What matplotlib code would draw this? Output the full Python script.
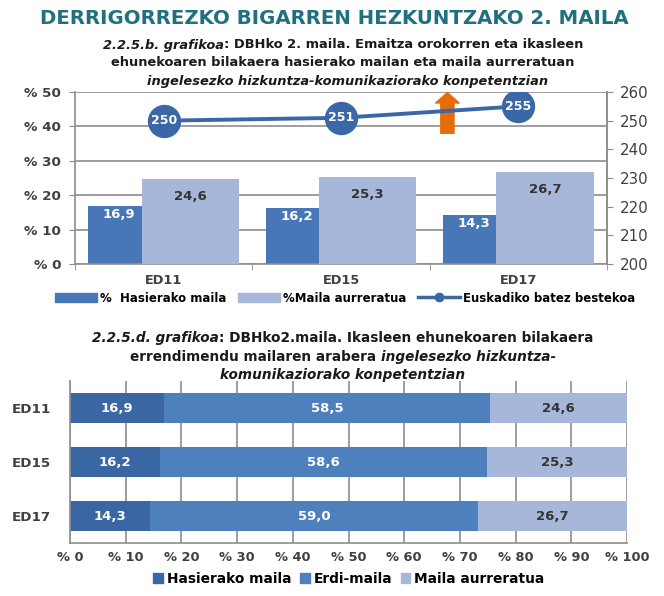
import numpy as np
import matplotlib
matplotlib.use("Agg")
import matplotlib.pyplot as plt
from matplotlib.patches import Patch
from matplotlib.lines import Line2D

plt.rcParams['font.family'] = ['DejaVu Sans']

# datuak
urteak = ['ED11', 'ED15', 'ED17']
hasierako = [16.9, 16.2, 14.3]
erdi_maila = [58.5, 58.6, 59.0]
aurreratua = [24.6, 25.3, 26.7]
batez_bestekoa = [250, 251, 255]
ezker_ticks = [0, 10, 20, 30, 40, 50]
eskuin_ticks = [200, 210, 220, 230, 240, 250, 260]
x_ticks_behe = list(range(0, 101, 10))

c_ilun = '#3a66a3'
c_erdi = '#4f80be'
c_goi = '#4877b8'
c_argi = '#a7b7da'
c_lerro = '#3b67a6'
c_gezi = '#e46c0a'
c_grid = '#8e8e8e'
c_testu = '#404040'

W, H = 664, 596
fig = plt.figure(figsize=(W / 100, H / 100), dpi=100)
renderer = fig.canvas.get_renderer()


def fmt(v):
    return f"{v:.1f}".replace('.', ',')


def lerroa(y_px, zatiak, x_px=343, size=9.4, color='#1a1a1a'):
    # testu zati nahasiak (etzana / zuzena) erdian jarri
    tt = []
    for s, st in zatiak:
        t = fig.text(0, 1 - y_px / H, s, fontsize=size, fontweight='bold', style=st,
                     ha='left', va='center', color=color)
        tt.append(t)
    ws = [t.get_window_extent(renderer).width for t in tt]
    x0 = x_px - sum(ws) / 2
    for t, w in zip(tt, ws):
        t.set_x(x0 / W)
        x0 += w


fig.text(334 / W, 1 - 18 / H, 'DERRIGORREZKO BIGARREN HEZKUNTZAKO 2. MAILA',
         fontsize=14.2, fontweight='bold', color='#21707f', ha='center', va='center')

lerroa(45, [('2.2.5.b. grafikoa', 'italic'), (': DBHko 2. maila. Emaitza orokorren eta ikasleen', 'normal')])
lerroa(63, [('ehunekoaren bilakaera hasierako mailan eta maila aurreratuan', 'normal')])
lerroa(81, [('ingelesezko hizkuntza-komunikaziorako konpetentzian', 'italic')], x_px=348)

# --- goiko grafikoa ---
ax = fig.add_axes([75 / W, 1 - 264 / H, 532 / W, 172 / H])
x = np.arange(len(urteak))
zab = 0.55
ax.bar(x - 0.15, hasierako, zab, color=c_goi, zorder=2)
ax.bar(x + 0.15, aurreratua, zab, color=c_argi, zorder=4)
for i in range(len(urteak)):
    ax.annotate(fmt(hasierako[i]), (x[i] - 0.25, hasierako[i]), xytext=(0, -6),
                textcoords='offset points', ha='center', va='center', color='white',
                fontsize=9.5, fontweight='bold', zorder=3)
    ax.annotate(fmt(aurreratua[i]), (x[i] + 0.15, aurreratua[i]), xytext=(0, -12.5),
                textcoords='offset points', ha='center', va='center', color='#333333',
                fontsize=9.5, fontweight='bold', zorder=5)

ax.set_xlim(-0.5, 2.5)
ax.set_ylim(0, 50)
ax.set_yticks(ezker_ticks)
ax.set_yticklabels([f'% {v}' for v in ezker_ticks])
ax.set_xticks(x)
ax.set_xticklabels(urteak)
ax.set_xticks([-0.5, 0.5, 1.5, 2.5], minor=True)
ax.tick_params(axis='x', which='major', length=0, pad=7, labelsize=9.3, labelcolor=c_testu)
ax.tick_params(axis='x', which='minor', length=4, color=c_grid, direction='out')
ax.tick_params(axis='y', length=4, color=c_grid, pad=6, labelsize=9.7, labelcolor=c_testu)
for l in ax.get_xticklabels() + ax.get_yticklabels():
    l.set_fontweight('bold')
ax.grid(axis='y', color=c_grid, lw=1.2, zorder=0)
ax.set_axisbelow(True)
ax.spines['top'].set_visible(False)
for s in ['left', 'right', 'bottom']:
    ax.spines[s].set_color(c_grid)
    ax.spines[s].set_linewidth(1.2)

ax2 = ax.twinx()
ax2.set_ylim(200, 260)
ax2.set_yticks(eskuin_ticks)
ax2.tick_params(axis='y', length=4, color=c_grid, pad=5, labelsize=10.8, labelcolor=c_testu)
for s in ['top', 'left', 'bottom']:
    ax2.spines[s].set_visible(False)
ax2.spines['right'].set_color(c_grid)
ax2.spines['right'].set_linewidth(1.2)
ax2.plot(x, batez_bestekoa, color=c_lerro, lw=2.8, marker='o', markersize=23,
         markerfacecolor=c_lerro, markeredgecolor=c_lerro, zorder=5)
for i, v in enumerate(batez_bestekoa):
    ax2.text(x[i], v, str(v), color='white', fontsize=9, fontweight='bold',
             ha='center', va='center', zorder=6)
ax2.annotate('', xy=(1.6, 259.8), xytext=(1.6, 245.6),
             arrowprops=dict(arrowstyle='simple,head_width=1.7,head_length=0.75,tail_width=0.95',
                             mutation_scale=10, color=c_gezi, shrinkA=0, shrinkB=0))

fig.legend(handles=[Patch(color=c_goi, label='%  Hasierako maila'),
                    Patch(color=c_argi, label='%Maila aurreratua'),
                    Line2D([], [], color=c_lerro, lw=2.5, marker='o', markersize=6,
                           label='Euskadiko batez bestekoa')],
           loc='center', bbox_to_anchor=(345 / W, 1 - 298 / H), ncol=3, frameon=False,
           handlelength=3.6, handleheight=0.7, handletextpad=0.2, columnspacing=1.0,
           prop={'weight': 'bold', 'size': 8.5})

# --- beheko grafikoa ---
lerroa(338, [('2.2.5.d. grafikoa', 'italic'), (': DBHko2.maila. Ikasleen ehunekoaren bilakaera', 'normal')],
       size=9.8)
lerroa(357, [('errendimendu mailaren arabera ', 'normal'), ('ingelesezko hizkuntza-', 'italic')],
       size=9.8)
lerroa(375, [('komunikaziorako konpetentzian', 'italic')], size=9.8)

bx = fig.add_axes([70 / W, 1 - 543 / H, 557 / W, 162 / H])
y = np.arange(len(urteak))
h = 0.56
ezk = np.zeros(len(urteak))
for balioak, kol, tkol in [(hasierako, c_ilun, 'white'), (erdi_maila, c_erdi, 'white'),
                           (aurreratua, c_argi, '#333333')]:
    bx.barh(y, balioak, h, left=ezk, color=kol, zorder=2)
    for i, v in enumerate(balioak):
        bx.text(ezk[i] + v / 2, y[i], fmt(v), ha='center', va='center', color=tkol,
                fontsize=9.5, fontweight='bold', zorder=3)
    ezk = ezk + np.array(balioak)

bx.set_ylim(2.5, -0.5)
bx.set_xlim(0, 100)
bx.set_yticks(y)
bx.set_yticklabels(urteak)
bx.set_xticks(x_ticks_behe)
bx.set_xticklabels([f'% {v}' for v in x_ticks_behe])
bx.tick_params(axis='y', length=0, pad=14, labelsize=9.7, labelcolor=c_testu)
bx.tick_params(axis='x', length=0, pad=6, labelsize=9.4, labelcolor=c_testu)
for l in bx.get_xticklabels() + bx.get_yticklabels():
    l.set_fontweight('bold')
bx.grid(axis='x', color=c_grid, lw=1.2, zorder=0)
bx.set_axisbelow(True)
for s in ['top', 'right']:
    bx.spines[s].set_visible(False)
for s in ['left', 'bottom']:
    bx.spines[s].set_color(c_grid)
    bx.spines[s].set_linewidth(1.2)

fig.legend(handles=[Patch(color=c_ilun, label='Hasierako maila'),
                    Patch(color=c_erdi, label='Erdi-maila'),
                    Patch(color=c_argi, label='Maila aurreratua')],
           loc='center', bbox_to_anchor=(349 / W, 1 - 579 / H), ncol=3, frameon=False,
           handlelength=0.7, handleheight=0.7, handletextpad=0.3, columnspacing=0.6,
           prop={'weight': 'bold', 'size': 9.9})

fig.savefig('out.png', dpi=100)
